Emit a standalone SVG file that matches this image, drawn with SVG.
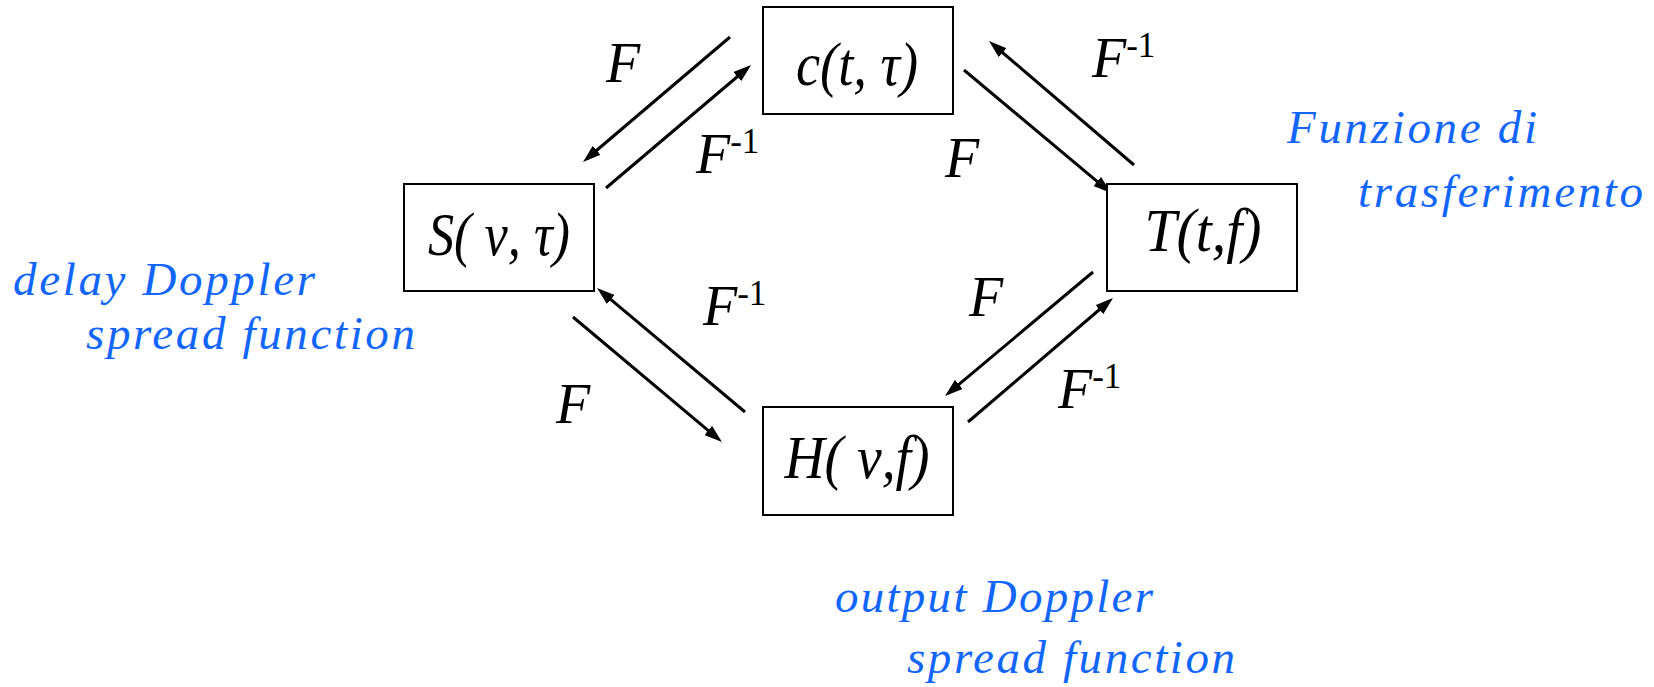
<svg xmlns="http://www.w3.org/2000/svg" width="1654" height="687" viewBox="0 0 1654 687">
<style>
.box{fill:#fff;stroke:#000;stroke-width:2}
.bt{font-family:'Liberation Serif',serif;font-style:italic;font-size:61px;fill:#000}
.lb{font-family:'Liberation Serif',serif;font-style:italic;font-size:56px;fill:#000}
.sup{font-style:normal;font-size:35px}
.blue{font-family:'Liberation Serif',serif;font-style:italic;font-size:47px;fill:#1166ff}
.ar{stroke:#000;stroke-width:3;fill:none;marker-end:url(#ah)}
</style>
<defs>
<marker id="ah" markerUnits="userSpaceOnUse" markerWidth="18" markerHeight="12" refX="8" refY="6" orient="auto" viewBox="0 0 18 12">
<path d="M0,0 L18,6 L0,12 z" fill="#000"/>
</marker>
</defs>
<rect width="1654" height="687" fill="#fff"/>
<g id="connectors">
<line class="ar" x1="730" y1="37" x2="590.6" y2="155.5"/>
<line class="ar" x1="606" y1="188" x2="743.4" y2="71.5"/>
<line class="ar" x1="964" y1="70" x2="1103.3" y2="186.6"/>
<line class="ar" x1="1134" y1="165" x2="996.6" y2="47.5"/>
<line class="ar" x1="745" y1="412" x2="604.7" y2="294.4"/>
<line class="ar" x1="573" y1="317" x2="714.3" y2="435.6"/>
<line class="ar" x1="1093" y1="272" x2="952.7" y2="389.6"/>
<line class="ar" x1="968" y1="422" x2="1105.4" y2="304.5"/>
<text class="lb" x="606" y="82">F</text>
<text class="lb" x="696" y="173">F<tspan class="sup" dy="-20">-1</tspan></text>
<text class="lb" x="945" y="177">F</text>
<text class="lb" x="1092" y="77">F<tspan class="sup" dy="-20">-1</tspan></text>
<text class="lb" x="703" y="325">F<tspan class="sup" dy="-20">-1</tspan></text>
<text class="lb" x="556" y="423">F</text>
<text class="lb" x="969" y="316">F</text>
<text class="lb" x="1058" y="408">F<tspan class="sup" dy="-20">-1</tspan></text>
</g>
<g id="node-c">
<rect class="box" x="763" y="7" width="190" height="107"/>
<text class="bt" x="857" y="85" text-anchor="middle" textLength="122" lengthAdjust="spacingAndGlyphs">c(t, τ)</text>
</g>
<g id="node-S">
<rect class="box" x="404" y="184" width="190" height="107"/>
<text class="bt" x="499" y="255" text-anchor="middle" textLength="142" lengthAdjust="spacingAndGlyphs">S( ν, τ)</text>
</g>
<g id="node-T">
<rect class="box" x="1107" y="184" width="190" height="107"/>
<text class="bt" x="1203" y="251" text-anchor="middle" textLength="117" lengthAdjust="spacingAndGlyphs">T(t,f)</text>
</g>
<g id="node-H">
<rect class="box" x="763" y="407" width="190" height="108"/>
<text class="bt" x="857" y="478" text-anchor="middle" textLength="145" lengthAdjust="spacingAndGlyphs">H( ν,f)</text>
</g>
<g id="annotations">
<text class="blue" x="13" y="295" textLength="302" lengthAdjust="spacing">delay Doppler</text>
<text class="blue" x="86" y="349" textLength="329" lengthAdjust="spacing">spread function</text>
<text class="blue" x="1287" y="143" textLength="250" lengthAdjust="spacing">Funzione di</text>
<text class="blue" x="1358" y="207" textLength="285" lengthAdjust="spacing">trasferimento</text>
<text class="blue" x="835" y="612" textLength="318" lengthAdjust="spacing">output Doppler</text>
<text class="blue" x="907" y="673" textLength="328" lengthAdjust="spacing">spread function</text>
</g>
</svg>
